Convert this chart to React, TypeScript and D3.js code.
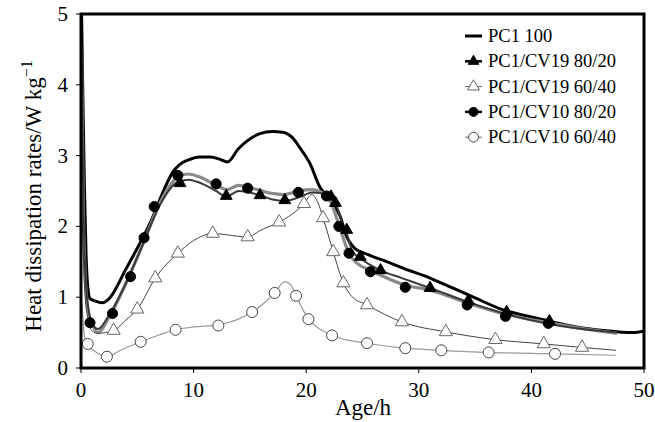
import * as React from "react";
import * as d3 from "d3";

// values, [age h, heat W/kg]
const pc1_100 = [
  [0.05, 5.0], [0.15, 4.0], [0.3, 2.6], [0.45, 1.6], [0.6, 1.15], [0.8, 0.98], [1.2, 0.95],
  [1.9, 0.92], [2.5, 0.98], [4, 1.4], [6, 2.0], [8.3, 2.8], [9.9, 2.96], [10.6, 2.98],
  [11.5, 2.98], [12.3, 2.95], [13, 2.91], [14, 3.1], [15.9, 3.31], [17, 3.34], [17.9, 3.33],
  [18.8, 3.25], [19.4, 3.12], [20.3, 2.9], [21.2, 2.56], [22.2, 2.35], [23, 2.15], [23.6, 1.85],
  [24.2, 1.71], [25.5, 1.6], [27.2, 1.5], [28.6, 1.41], [31, 1.27], [33, 1.13], [35, 0.99],
  [37.5, 0.82], [40, 0.72], [41.9, 0.65], [44, 0.58], [46.4, 0.53], [49, 0.5], [50, 0.52]
];

const cv19_8020 = [
  [0.05, 4.6], [0.2, 2.5], [0.4, 1.3], [0.7, 0.8], [1.1, 0.6], [1.5, 0.55], [2.5, 0.75],
  [4, 1.2], [5.5, 1.75], [7, 2.3], [8.5, 2.62], [9.5, 2.66], [10.5, 2.62], [12, 2.5],
  [12.9, 2.42], [14, 2.5], [15.9, 2.44], [17, 2.38], [18.1, 2.36], [19.5, 2.42], [20.5, 2.48],
  [21.3, 2.47], [22, 2.42], [22.6, 2.33], [23.2, 2.05], [23.6, 1.9], [24.1, 1.65], [24.8, 1.55],
  [26.6, 1.38], [28.5, 1.27], [31, 1.13], [34.4, 0.93], [37.8, 0.76], [41, 0.64], [44, 0.56],
  [47.6, 0.5]
];
const cv19_8020_marks = [
  [8.8, 2.61], [12.9, 2.43], [15.9, 2.44], [18.1, 2.37], [22.2, 2.42], [22.6, 2.33],
  [23.6, 1.95], [24.8, 1.57], [26.6, 1.38], [31, 1.13], [34.4, 0.95], [37.8, 0.79], [41.6, 0.66]
];

const cv19_6040 = [
  [0.1, 2.2], [0.3, 1.2], [0.6, 0.7], [1.0, 0.52], [1.5, 0.49], [2.9, 0.53], [4, 0.68],
  [5, 0.83], [6.6, 1.27], [8.6, 1.62], [10, 1.8], [11.7, 1.9], [13, 1.88], [14.8, 1.85],
  [16, 1.95], [17.6, 2.06], [19.8, 2.32], [20.5, 2.45], [21, 2.35], [21.5, 2.12], [22.4, 1.64],
  [23.3, 1.2], [24, 1.02], [25.4, 0.89], [28.5, 0.65], [32.4, 0.51], [36.8, 0.4], [41.1, 0.34],
  [44.5, 0.29], [47.5, 0.25]
];
const cv19_6040_marks = [
  [2.9, 0.53], [5.0, 0.83], [6.6, 1.27], [8.6, 1.62], [11.7, 1.9], [14.8, 1.85], [17.6, 2.06],
  [19.8, 2.32], [21.5, 2.12], [22.4, 1.64], [23.3, 1.2], [25.4, 0.89], [28.5, 0.65],
  [32.4, 0.51], [36.8, 0.4], [41.1, 0.34], [44.5, 0.29]
];

const cv10_8020 = [
  [0.05, 4.4], [0.2, 2.3], [0.4, 1.2], [0.7, 0.75], [1.1, 0.58], [1.5, 0.5], [2.5, 0.72],
  [4, 1.2], [5.5, 1.75], [7, 2.33], [8.6, 2.7], [9.5, 2.74], [10.5, 2.7], [12, 2.58], [13, 2.52],
  [14, 2.58], [15, 2.55], [16.5, 2.48], [18, 2.45], [19.3, 2.5], [20.5, 2.52], [21.5, 2.47],
  [22.3, 2.3], [22.9, 2.02], [23.8, 1.62], [24.5, 1.48], [25.7, 1.38], [28.8, 1.17], [31, 1.1],
  [34.3, 0.92], [37.7, 0.76], [41.5, 0.64], [44, 0.57], [47.6, 0.49]
];
const cv10_8020_marks = [
  [0.8, 0.64], [2.8, 0.77], [4.4, 1.29], [5.6, 1.84], [6.5, 2.28], [8.6, 2.72], [12, 2.6],
  [14.8, 2.54], [19.3, 2.48], [21.8, 2.43], [22.9, 2.0], [23.8, 1.62], [25.7, 1.36],
  [28.8, 1.14], [34.3, 0.89], [37.7, 0.73], [41.5, 0.63]
];

const cv10_6040 = [
  [0.1, 0.9], [0.3, 0.45], [0.6, 0.33], [1.2, 0.24], [2.3, 0.16], [3.5, 0.25], [5.3, 0.37],
  [7, 0.47], [8.4, 0.54], [10, 0.58], [12.2, 0.61], [13.8, 0.68], [15.2, 0.79], [16.5, 0.95],
  [17.2, 1.06], [18.1, 1.22], [18.6, 1.18], [19.1, 1.02], [20.2, 0.69], [21.2, 0.55],
  [22.3, 0.46], [23.5, 0.4], [25.4, 0.35], [28.8, 0.28], [32, 0.25], [36.2, 0.22], [42.1, 0.2],
  [47.5, 0.18]
];
const cv10_6040_marks = [
  [0.6, 0.34], [2.3, 0.16], [5.3, 0.37], [8.4, 0.54], [12.2, 0.6], [15.2, 0.79], [17.2, 1.06],
  [19.1, 1.02], [20.2, 0.69], [22.3, 0.46], [25.4, 0.35], [28.8, 0.28], [32, 0.25],
  [36.2, 0.22], [42.1, 0.2]
];

const xTicks = [0, 10, 20, 30, 40, 50];
const yTicks = [0, 1, 2, 3, 4, 5];
const legendNames = ["PC1 100", "PC1/CV19 80/20", "PC1/CV19 60/40", "PC1/CV10 80/20", "PC1/CV10 60/40"];

const W = 655, H = 422;
const plot = { left: 81, right: 644, top: 14, bottom: 368 };
const font = "'Liberation Serif', 'Times New Roman', serif";

export default function App() {
  const x = d3.scaleLinear().domain([0, 50]).range([plot.left, plot.right]);
  const y = d3.scaleLinear().domain([0, 5]).range([plot.bottom, plot.top]);

  const line = d3.line<number[]>()
    .x(d => x(d[0]))
    .y(d => y(d[1]))
    .curve(d3.curveMonotoneX);

  const tri = d3.symbol().type(d3.symbolTriangle);
  const circ = d3.symbol().type(d3.symbolCircle);

  // one entry per series: line, markers and how they look
  const series = [
    { name: legendNames[0], line: pc1_100, marks: [], stroke: "#000", width: 3, sym: null, fill: "none", mStroke: "none", size: 0 },
    { name: legendNames[3], line: cv10_8020, marks: cv10_8020_marks, stroke: "#8a8a8a", width: 3.2, sym: circ, fill: "#000", mStroke: "#000", size: 80 },
    { name: legendNames[1], line: cv19_8020, marks: cv19_8020_marks, stroke: "#3a3a3a", width: 2, sym: tri, fill: "#000", mStroke: "#000", size: 60 },
    { name: legendNames[2], line: cv19_6040, marks: cv19_6040_marks, stroke: "#444", width: 1, sym: tri, fill: "#fff", mStroke: "#666", size: 75 },
    { name: legendNames[4], line: cv10_6040, marks: cv10_6040_marks, stroke: "#999", width: 1.2, sym: circ, fill: "#fff", mStroke: "#444", size: 95 }
  ];
  const legendOrder = [0, 2, 3, 1, 4];

  return (
    <svg width={W} height={H} style={{ position: "absolute", left: 0, top: 0, background: "#fff" }}
      fontFamily={font}>
      <defs>
        <clipPath id="plotClip">
          <rect x={plot.left} y={plot.top} width={plot.right - plot.left} height={plot.bottom - plot.top} />
        </clipPath>
      </defs>

      <g clipPath="url(#plotClip)">
        {series.map((s, i) => (
          <path key={"l" + i} d={line(s.line) || ""} fill="none" stroke={s.stroke}
            strokeWidth={s.width} strokeLinejoin="round" />
        ))}
        {series.map((s, i) => s.sym ? s.marks.map((d, j) => (
          <path key={"m" + i + "-" + j} d={s.sym.size(s.size)() || ""}
            transform={`translate(${x(d[0])},${y(d[1])})`}
            fill={s.fill} stroke={s.mStroke} strokeWidth={1} />
        )) : null)}
      </g>

      {/* frame */}
      <rect x={plot.left} y={plot.top} width={plot.right - plot.left} height={plot.bottom - plot.top}
        fill="none" stroke="#000" strokeWidth={3} />

      {/* axes */}
      {yTicks.map(t => (
        <g key={"y" + t}>
          <line x1={plot.left - 5} x2={plot.left} y1={y(t)} y2={y(t)} stroke="#000" strokeWidth={1} />
          <text x={68} y={y(t)} textAnchor="end" dominantBaseline="central" fontSize={21}>{t}</text>
        </g>
      ))}
      {xTicks.map(t => (
        <g key={"x" + t}>
          <line x1={x(t)} x2={x(t)} y1={plot.bottom} y2={plot.bottom + 5} stroke="#000" strokeWidth={1} />
          <text x={x(t)} y={397} textAnchor="middle" fontSize={21}>{t}</text>
        </g>
      ))}
      <text x={363} y={415} textAnchor="middle" fontSize={23}>Age/h</text>
      <text transform={`translate(41,${(plot.top + plot.bottom) / 2 + 5}) rotate(-90)`}
        textAnchor="middle" fontSize={23}>
        Heat dissipation rates/W kg<tspan fontSize={16} dy={-9}>{"\u22121"}</tspan>
      </text>

      {/* legend */}
      {legendOrder.map((si, k) => {
        const s = series[si];
        const ly = 36 + k * 25.3;
        return (
          <g key={"lg" + k}>
            <line x1={465} x2={482} y1={ly} y2={ly} stroke={si === 0 ? "#000" : s.width < 2 ? "#666" : "#000"}
              strokeWidth={si === 0 ? 3 : s.width < 2 ? 1 : 2.5} />
            {s.sym ? (
              <path d={s.sym.size(s.size * 0.8)() || ""} transform={`translate(473.5,${ly})`}
                fill={s.fill} stroke={s.mStroke} strokeWidth={1} />
            ) : null}
            <text x={488} y={ly} dominantBaseline="central" fontSize={18.5}>{s.name}</text>
          </g>
        );
      })}
    </svg>
  );
}
